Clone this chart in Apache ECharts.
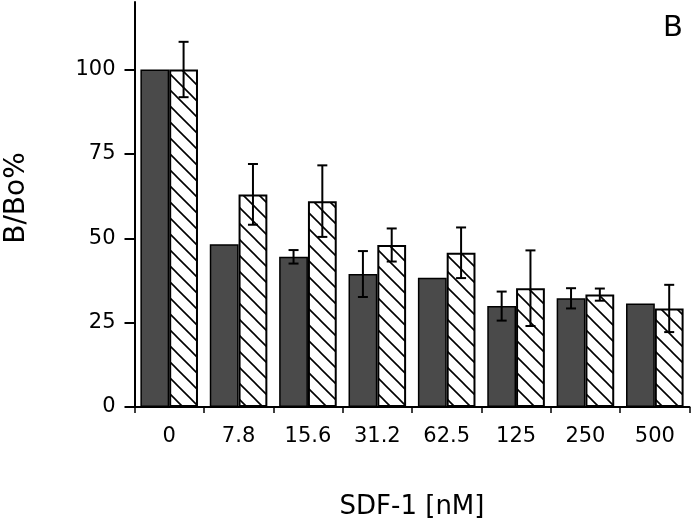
<!DOCTYPE html>
<html>
<head>
<meta charset="utf-8">
<script src="https://cdn.jsdelivr.net/npm/echarts@6/dist/echarts.min.js"></script>
<style>
html,body{margin:0;padding:0;background:#fff;}
#chart{width:691px;height:529px;}
</style>
</head>
<body>
<div id="chart"></div>
<script>
// ---- data ----
const categories = ['0', '7.8', '15.6', '31.2', '62.5', '125', '250', '500'];
const solidMean  = [100, 48.2, 44.5, 39.4, 38.3, 29.9, 32.2, 30.7];
const solidErr   = [0, 0, 2.0, 6.8, 0, 4.3, 3.0, 0];
const hatchMean  = [100, 63.0, 61.0, 48.0, 45.7, 35.2, 33.3, 29.2];
const hatchErr   = [8.2, 9.0, 10.6, 4.9, 7.5, 11.2, 1.8, 7.0];
const yTicks     = [0, 25, 50, 75, 100];

const FONT = 'DejaVu Sans';
const CAT_GAP = 0.17;

// hatch pattern
const tile = document.createElement('canvas');
tile.width = 16; tile.height = 16;
const tc = tile.getContext('2d');
tc.fillStyle = '#fff'; tc.fillRect(0, 0, 16, 16);
tc.strokeStyle = '#000'; tc.lineWidth = 1.6;
tc.beginPath();
tc.moveTo(-2, -2); tc.lineTo(18, 18);
tc.moveTo(-6, 10); tc.lineTo(6, 22);
tc.moveTo(10, -6); tc.lineTo(22, 6);
tc.stroke();

function errRender(side) {
  return function (params, api) {
    const i = api.value(0), m = api.value(1), e = api.value(2);
    if (!e) return null;
    const band = api.size([1, 0])[0];
    const barW = band * (1 - CAT_GAP) / 2;
    const x = api.coord([i, m])[0] + side * barW / 2;
    const yt = api.coord([i, m + e])[1];
    const yb = api.coord([i, m - e])[1];
    const h = 5;
    const st = { stroke: '#000', lineWidth: 2 };
    return {
      type: 'group',
      children: [
        { type: 'line', shape: { x1: x, y1: yt, x2: x, y2: yb }, style: st },
        { type: 'line', shape: { x1: x - h, y1: yt, x2: x + h, y2: yt }, style: st },
        { type: 'line', shape: { x1: x - h, y1: yb, x2: x + h, y2: yb }, style: st }
      ]
    };
  };
}

const chart = echarts.init(document.getElementById('chart'), null, { renderer: 'canvas' });
chart.setOption({
  animation: false,
  backgroundColor: '#fff',
  grid: { left: 134.5, right: 1.5, top: 2, bottom: 122, containLabel: false },
  xAxis: {
    type: 'category',
    data: categories,
    name: 'SDF-1 [nM]',
    nameLocation: 'middle',
    nameGap: 87,
    nameTextStyle: { fontFamily: FONT, fontSize: 26, color: '#000' },
    axisLine: { lineStyle: { color: '#000', width: 2 } },
    axisTick: { show: true, length: 6, lineStyle: { color: '#000', width: 1.5 } },
    axisLabel: { margin: 19, fontFamily: FONT, fontSize: 21, color: '#000', interval: 0 },
    splitLine: { show: false }
  },
  yAxis: {
    type: 'value',
    min: 0, max: 120, interval: 25,
    axisLine: { show: true, lineStyle: { color: '#000', width: 2 } },
    axisTick: { show: true, length: 10, customValues: yTicks, lineStyle: { color: '#000', width: 2 } },
    axisLabel: { margin: 19, fontFamily: FONT, fontSize: 21, color: '#000', customValues: yTicks },
    splitLine: { show: false }
  },
  series: [
    {
      type: 'bar', data: solidMean, barGap: '0%', barCategoryGap: (CAT_GAP * 100) + '%',
      itemStyle: { color: '#4a4a4a', borderColor: '#000', borderWidth: 1.5 }
    },
    {
      type: 'bar', data: hatchMean, barGap: '0%', barCategoryGap: (CAT_GAP * 100) + '%',
      itemStyle: { color: { image: tile, repeat: 'repeat' }, borderColor: '#000', borderWidth: 2 }
    },
    {
      type: 'custom', renderItem: errRender(-1), z: 5,
      data: solidMean.map((m, i) => [i, m, solidErr[i]])
    },
    {
      type: 'custom', renderItem: errRender(1), z: 5,
      data: hatchMean.map((m, i) => [i, m, hatchErr[i]])
    }
  ],
  graphic: [
    {
      type: 'text', x: 17, y: 198, rotation: Math.PI / 2,
      style: { text: 'B/Bo%', font: '28px "DejaVu Sans"', fill: '#000', align: 'center', verticalAlign: 'middle' }
    },
    {
      type: 'text', x: 673, y: 28,
      style: { text: 'B', font: '29px "DejaVu Sans"', fill: '#000', align: 'center', verticalAlign: 'middle' }
    }
  ]
});
</script>
</body>
</html>
